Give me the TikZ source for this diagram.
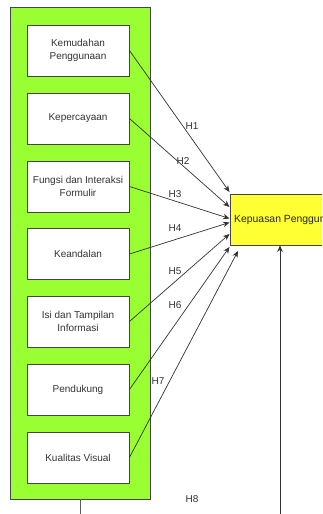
\documentclass[tikz,border=0pt]{standalone}
\usepackage{fontspec}
\setmainfont{Liberation Sans}
\usetikzlibrary{arrows.meta,calc}
\definecolor{grn}{HTML}{99FF33}
\definecolor{ylw}{HTML}{FFFF33}
\definecolor{ink}{HTML}{333333}
\definecolor{edge}{HTML}{444444}
\begin{document}
\begin{tikzpicture}[x=1pt,y=-1pt,
  every node/.style={font=\fontsize{10}{13}\selectfont, text=ink},
  varbox/.style={draw=edge, line width=0.9pt, fill=white, minimum width=102pt, minimum height=51pt, align=center, inner sep=0pt},
  conn/.style={draw=ink, line width=0.7pt, -{Stealth[length=6.5pt,width=5.5pt]}},
  plain/.style={draw=ink!80, line width=0.9pt},
  hlab/.style={inner sep=0pt}]
\useasboundingbox (0,0) rectangle (322,514);
\clip (0,0) rectangle (322,514);
\fill[white] (0,0) rectangle (322,514);
% container
\node[draw=edge, line width=0.9pt, fill=grn, minimum width=140pt, minimum height=492pt, inner sep=0pt] (G) at (80,253) {};
% variable boxes
\node[varbox] (b1) at (78,50.5) {Kemudahan\\Penggunaan};
\node[varbox] (b2) at (78,118.5) {Kepercayaan};
\node[varbox] (b3) at (78,186.5) {Fungsi dan Interaksi\\Formulir};
\node[varbox] (b4) at (78,254) {Keandalan};
\node[varbox] (b5) at (78,321.5) {Isi dan Tampilan\\Informasi};
\node[varbox] (b6) at (78,389.5) {Pendukung};
\node[varbox] (b7) at (78,457.5) {Kualitas Visual};
% target box
\node[draw=edge, line width=0.9pt, fill=ylw, minimum width=120pt, minimum height=51pt, inner sep=0pt] (Y) at (290,219.5) {};
\node[anchor=west, inner sep=0pt, text=black!85, font=\fontsize{10.4}{13}\selectfont] (Ylab) at (234,220) {Kepuasan Pengguna};
% arrow tips on target
\coordinate (t1) at (229.5,192);
\coordinate (t2) at (229.5,207);
\coordinate (t3) at (229.5,218.5);
\coordinate (t4) at (229.5,222.5);
\coordinate (t5) at (229.5,234);
\coordinate (t6) at (229.5,247);
\coordinate (t7) at (238,251);
\draw[conn] (b1.east) -- (t1);
\draw[conn] (b2.east) -- (t2);
\draw[conn] (b3.east) -- (t3);
\draw[conn] (b4.east) -- (t4);
\draw[conn] (b5.east) -- (t5);
\draw[conn] (b6.east) -- (t6);
\draw[conn] (b7.east) -- (t7);
% labels
\node[hlab] (h1) at (192,126) {H1};
\node[hlab] (h2) at (183,161) {H2};
\node[hlab] (h3) at (175,194) {H3};
\node[hlab] (h4) at (175,228) {H4};
\node[hlab] (h5) at (175,271) {H5};
\node[hlab] (h6) at (175,305) {H6};
\node[hlab] (h7) at (158,381) {H7};
\node[hlab] (h8) at (192,499) {H8};
% lower connectors
\coordinate (lowR) at (280,520);
\coordinate (lowL) at (80,520);
\draw[conn] (lowR) -- (Y.south -| lowR);
\draw[plain] (G.south -| lowL) -- (lowL);
\end{tikzpicture}
\end{document}
